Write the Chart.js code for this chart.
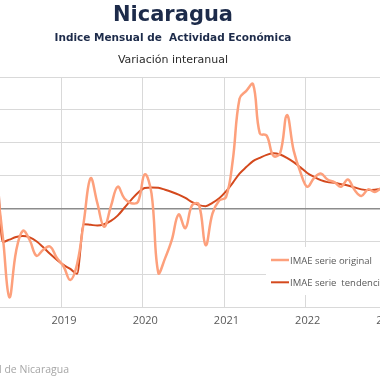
<!DOCTYPE html>
<html><head><meta charset="utf-8">
<script src="https://cdn.jsdelivr.net/npm/chart.js@4/dist/chart.umd.min.js"></script>
<style>
html,body{margin:0;padding:0;width:380px;height:380px;overflow:hidden;background:#fff;}
#wrap{position:absolute;left:-60px;top:0;width:470px;height:380px;}
</style></head><body>
<div id="wrap"><canvas id="c"></canvas></div>
<script>
// ---- data ----
const titleText = 'Nicaragua';
const subtitleText = 'Indice Mensual de  Actividad Económica';
const subtitle2Text = 'Variación interanual';
const sourceText = 'Fuente: Banco Central de Nicaragua';
const seriesNames = ['IMAE serie original', 'IMAE serie  tendencia'];
const firstYear = 2018, firstMonth = 2; // Feb 2018
const yearTicks = ['2018', '2019', '2020', '2021', '2022', '2023'];
const yTicks = [-15, -10, -5, 0, 5, 10, 15, 20];
const original = [
  4.0, 3.0, -4.0, -13.5, -6.5, -3.4, -4.8, -7.2, -6.3, -5.8, -7.5,
  -8.8, -10.9, -8.5, -2.0, 4.6, 0.8, -2.8, 0.3, 3.3, 1.5, 0.8, 1.0,
  5.2, 2.3, -9.8, -7.6, -4.8, -0.9, -3.0, 0.5, 0.6, -5.6, -0.8, 1.2,
  1.7, 7.3, 16.7, 17.9, 18.9, 11.4, 11.1, 8.0, 8.4, 14.2, 8.8, 5.5,
  3.3, 4.6, 5.3, 4.4, 4.0, 3.3, 4.4, 2.8, 1.9, 2.9, 2.5, 3.1,
  3.0
];
const trend = [
  4.6, 8.0, -5.1, -4.75, -4.35, -4.2, -4.4, -5.0, -5.9, -6.9, -7.8,
  -8.6, -9.2, -9.95, -2.4, -2.5, -2.6, -2.4, -1.9, -1.1, 0.1, 1.3, 2.4,
  3.1, 3.2, 3.15, 2.85, 2.5, 2.1, 1.6, 0.95, 0.5, 0.35, 0.85, 1.55,
  2.6, 3.9, 5.3, 6.3, 7.2, 7.7, 8.15, 8.4, 8.2, 7.7, 7.05, 6.25,
  5.4, 4.8, 4.3, 4.0, 3.9, 3.7, 3.5, 3.2, 2.9, 2.8, 2.85, 3.0,
  3.1
];

// ---- layout constants (viewport px) ----
const SHIFT = 60;            // canvas is shifted left by this much (chart is cropped)
const PX_PER_MONTH = 6.77;
const JAN19_X = 63.5;        // viewport x of the Jan 2019 point
const AREA_L = -20, AREA_R = 400;

const monthIndex = i => (firstYear - 2019) * 12 + (firstMonth - 1) + i;
const toPts = arr => arr.map((v, i) => ({ x: monthIndex(i), y: v }));

const colOrig = '#fda07c', colTrend = '#d4491d';

const textPlugin = {
  id: 'texts',
  afterDraw(chart) {
    const ctx = chart.ctx, o = SHIFT;
    ctx.save();
    ctx.textAlign = 'center';
    ctx.textBaseline = 'alphabetic';
    ctx.fillStyle = '#1d2b4a';
    ctx.font = 'bold 21px "DejaVu Sans"';
    ctx.fillText(titleText, o + 173, 21);
    ctx.font = 'bold 10.5px "DejaVu Sans"';
    ctx.fillText(subtitleText, o + 173, 40.5);
    ctx.fillStyle = '#2b2b2b';
    ctx.font = '11px "DejaVu Sans"';
    ctx.fillText(subtitle2Text, o + 173, 62.5);
    // legend
    ctx.fillStyle = '#ffffff';
    ctx.fillRect(o + 266, 247, 200, 48);
    const rows = [[colOrig, 2.5, 260, 264], [colTrend, 2, 282.3, 286]];
    ctx.textAlign = 'left';
    ctx.font = '9.5px "Open Sans"';
    rows.forEach((r, i) => {
      ctx.strokeStyle = r[0]; ctx.lineWidth = r[1];
      ctx.beginPath(); ctx.moveTo(o + 271, r[2]); ctx.lineTo(o + 289, r[2]); ctx.stroke();
      ctx.fillStyle = '#595959';
      ctx.fillText(chart.data.datasets[i].label, o + 290, r[3]);
    });
    // source
    ctx.textAlign = 'right';
    ctx.fillStyle = '#a6a6a6';
    ctx.font = '10.5px "Open Sans"';
    ctx.fillText(sourceText, o + 69, 373);
    ctx.restore();
  }
};

new Chart(document.getElementById('c'), {
  type: 'line',
  data: {
    datasets: [
      { label: seriesNames[0], data: toPts(original), borderColor: colOrig, borderWidth: 2.5,
        pointRadius: 0, tension: 0.4, fill: false },
      { label: seriesNames[1], data: toPts(trend), borderColor: colTrend, borderWidth: 2,
        pointRadius: 0, cubicInterpolationMode: 'monotone', fill: false }
    ]
  },
  options: {
    responsive: true, maintainAspectRatio: false, animation: false,
    layout: { padding: { left: SHIFT + AREA_L, right: 470 - SHIFT - AREA_R, top: 77, bottom: 0 } },
    plugins: { legend: { display: false }, tooltip: { enabled: false }, title: { display: false } },
    scales: {
      x: {
        type: 'linear',
        min: (AREA_L - JAN19_X) / PX_PER_MONTH,
        max: (AREA_R - JAN19_X) / PX_PER_MONTH,
        afterBuildTicks: s => { s.ticks = yearTicks.map(y => ({ value: (+y - 2019) * 12 - 0.27 })); },
        afterFit: s => { s.height = 73; },
        grid: { color: '#d9d9d9', drawTicks: false, lineWidth: 1 },
        border: { color: '#d9d9d9' },
        ticks: { callback: (v, i) => yearTicks[i], autoSkip: false, maxRotation: 0,
          labelOffset: 2.3, padding: 7, color: '#595959', font: { family: 'Open Sans', size: 11 } }
      },
      y: {
        min: yTicks[0], max: yTicks[yTicks.length - 1],
        afterBuildTicks: s => { s.ticks = yTicks.map(v => ({ value: v })); },
        afterFit: s => { s.width = 0; },
        grid: { color: c => c.tick.value === 0 ? '#8c8c8c' : '#d9d9d9',
                lineWidth: c => c.tick.value === 0 ? 1.5 : 1, drawTicks: false },
        border: { display: false },
        ticks: { display: false }
      }
    }
  },
  plugins: [textPlugin]
});
</script>
</body></html>
